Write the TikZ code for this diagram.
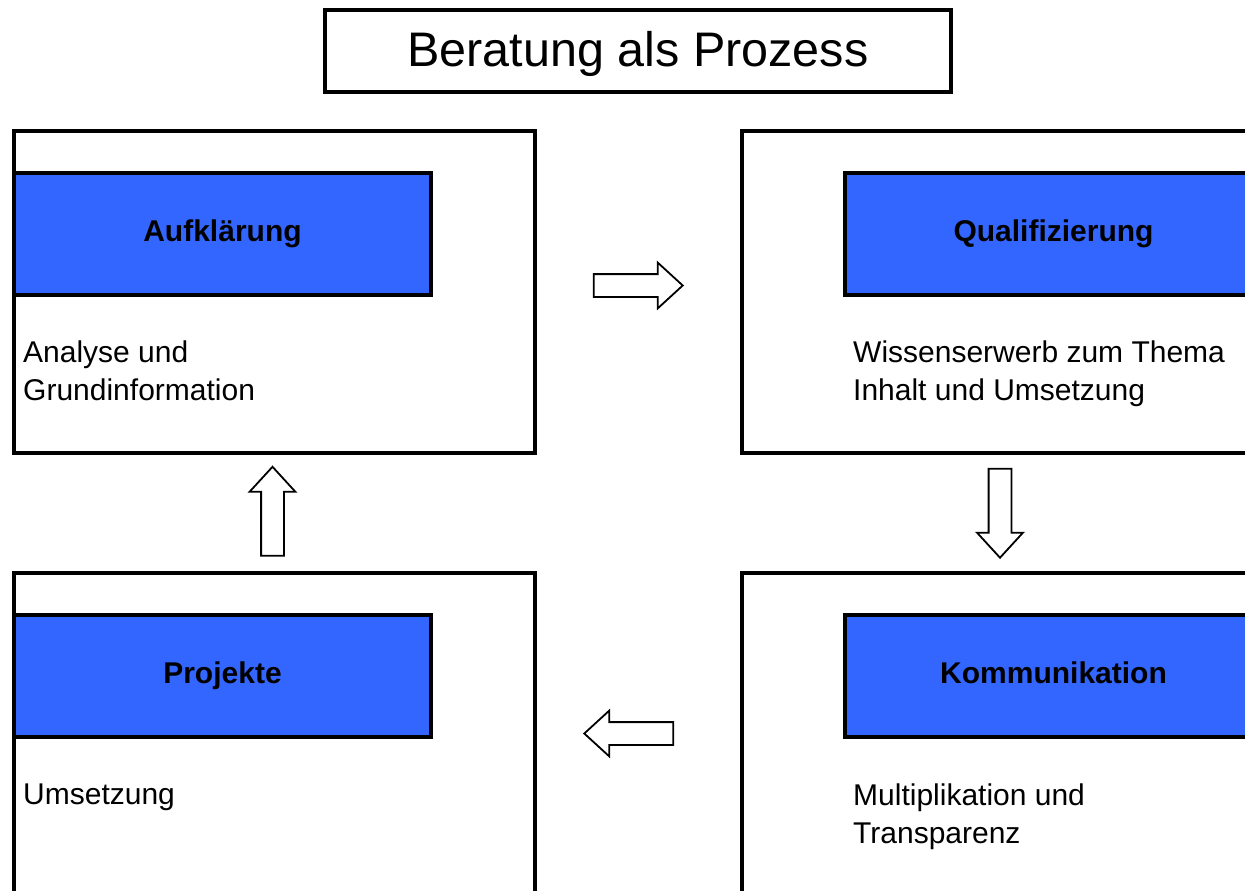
\documentclass[tikz,border=0pt]{standalone}
\usepackage{fontspec}
\setmainfont{Liberation Sans}
\usetikzlibrary{shapes.arrows}
\definecolor{kopfblau}{HTML}{3366FF}
\tikzset{
  rahmen/.style={draw, line width=4pt, inner sep=0pt, minimum width=521pt, minimum height=322pt},
  kopf/.style={draw, fill=kopfblau, line width=4pt, inner sep=0pt, minimum width=417pt, minimum height=122pt,
    text height=22pt, text depth=6.3pt, font=\fontsize{30}{36}\selectfont\bfseries},
  notiz/.style={anchor=north west, inner sep=0pt, align=left, font=\fontsize{30}{38}\selectfont},
  pfeil/.style={draw, single arrow, line width=1.8pt, inner xsep=0pt, inner ysep=10.5pt,
    minimum height=89pt, single arrow head extend=11.5pt, single arrow tip angle=85},
}
\begin{document}
\begin{tikzpicture}[x=1pt, y=-1pt]
	%%%%% START %%%%%
	\useasboundingbox (0, 0) rectangle (1245, 891);
	\clip (0, 0) rectangle (1245, 891);
	
	\node[draw, line width=4pt, minimum width=626pt, minimum height=82pt, text height=41pt, text depth=10.2pt,
	  font=\fontsize{48.5}{58}\selectfont] (titel) at (638, 51) {Beratung als Prozess};
	
	% oben links
	\node[rahmen] (rahmenA) at (274.5, 292) {};
	\node[kopf] (aufkl) at (222.5, 234) {Aufklärung};
	\node[notiz] (analyse) at (23, 341) {Analyse und\\Grundinformation};
	
	% oben rechts
	\node[rahmen] (rahmenQ) at (1002.5, 292) {};
	\node[kopf] (quali) at (1053.5, 234) {Qualifizierung};
	\node[notiz] (wissen) at (853, 341) {Wissenserwerb zum Thema\\Inhalt und Umsetzung};
	
	% unten rechts
	\node[rahmen] (rahmenK) at (1002.5, 734) {};
	\node[kopf] (kommu) at (1053.5, 675.5) {Kommunikation};
	\node[notiz] (multi) at (853, 784) {Multiplikation und\\Transparenz};
	
	% unten links
	\node[rahmen] (rahmenP) at (274.5, 734) {};
	\node[kopf] (proj) at (222.5, 675.5) {Projekte};
	\node[notiz] (umsetz) at (23, 784) {Umsetzung};
	
	% Pfeile im Kreis
	\node[pfeil] (pfeilAQ) at (632, 285.5) {};
	\node[pfeil, rotate=-90] (pfeilQK) at (1000, 507) {};
	\node[pfeil, rotate=180] (pfeilKP) at (635, 733.5) {};
	\node[pfeil, rotate=90] (pfeilPA) at (272.5, 517.5) {};
	%%%%% END %%%%%
\end{tikzpicture}
\end{document}
